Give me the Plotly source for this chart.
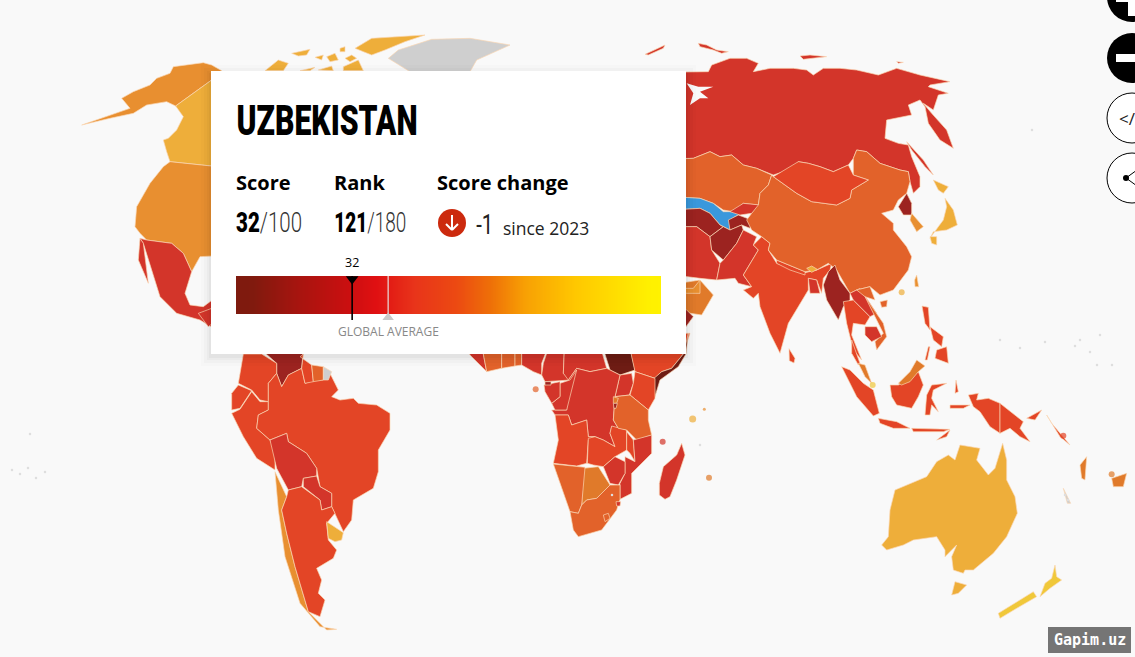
import json
import numpy as np
import plotly.graph_objects as go

W, H = 1135, 657
BG = "#f9f9f9"

ORIGIN = {"AS": (680, 30), "AF": (470, 340), "SA": (220, 350), "NA": (0, 30), "OC": (830, 340)}

BIN_COLORS = {0: "#6e1c14", 10: "#9c2320", 20: "#d3352a", 30: "#e34526", 40: "#e2622a",
              50: "#e07a2a", 60: "#e88f30", 70: "#eeae3a", 80: "#f0c83a"}
SELECTED_COLOR = "#3a98dc"
NO_DATA_COLOR = "#cfcfcf"

REGIONS = [
 # North America
 ("Alaska","NA",65,[(245,285),(310,262),(390,235),(365,205),(400,185),(450,165),(470,145),(510,130),(520,110),(610,98),(635,105),(665,122),(635,150),(527,228),(500,215),(440,225),(400,250),(330,265)]),
 ("Canada","NA",75,[(635,150),(527,228),(550,260),(530,300),(505,325),(490,330),(500,365),(510,395),(700,415),(700,140)]),
 ("USA","NA",65,[(510,395),(700,415),(700,675),(600,680),(575,725),(550,670),(515,640),(440,630),(420,610),(405,590),(410,530),(450,460),(490,410)]),
 ("Mexico","NA",26,[(420,625),(440,630),(515,640),(550,670),(575,725),(555,790),(570,825),(610,830),(650,800),(650,900),(600,870),(530,850),(480,800),(460,735),(450,700),(430,640)]),
 ("Baja","NA",26,[(420,625),(430,640),(445,760),(415,690)]),
 ("Guatemala","NA",25,[(595,850),(635,835),(650,870),(625,890)]),
 ("Banks","NA",75,[(795,122),(835,90),(865,100),(850,122)]),
 ("Victoria","NA",75,[(875,70),(930,58),(920,75),(895,78)]),
 ("Canada isle 1","NA",75,[(900,122),(945,112),(930,122)]),
 ("Canada isle 2","NA",75,[(955,120),(995,108),(1000,122)]),
 ("Canada isle 3","NA",75,[(945,82),(970,75),(965,90)]),
 ("Canada isle 4","NA",75,[(980,80),(1005,70),(1015,90),(990,95)]),
 ("Baffin","NA",75,[(1030,110),(1075,90),(1090,122),(1030,122)]),
 ("Canada isle 5","NA",75,[(1020,55),(1035,50),(1035,65),(1020,65)]),
 ("Canada isle 6","NA",75,[(1035,85),(1055,75),(1070,85),(1050,95)]),
 ("Ellesmere","NA",75,[(1065,55),(1115,25),(1275,15),(1215,35),(1155,60),(1115,75),(1090,65)]),
 ("Greenland","NA",None,[(1165,85),(1195,60),(1295,28),(1410,25),(1530,45),(1430,90),(1410,125),(1230,125)]),
 # South America
 ("Venezuela","SA",10,[(125,0),(250,0),(245,55),(205,75),(185,110),(170,70),(170,40)]),
 ("Colombia","SA",39,[(70,12),(125,12),(170,40),(170,70),(145,100),(145,155),(120,150),(95,120),(55,100)]),
 ("Ecuador","SA",34,[(55,105),(95,122),(60,175),(35,180),(35,130)]),
 ("Peru","SA",31,[(35,190),(60,178),(95,125),(120,155),(145,155),(145,180),(115,195),(110,235),(150,270),(165,300),(165,360),(110,325),(70,260)]),
 ("Brazil","SA",34,[(145,100),(170,70),(185,110),(205,75),(245,55),(255,100),(285,90),(310,90),(330,70),(355,120),(335,140),(360,150),(400,145),(415,160),(470,165),(510,190),(510,240),(475,300),(475,365),(460,415),(400,450),(395,510),(370,545),(345,490),(335,470),(335,430),(300,410),(290,355),(260,310),(205,275),(200,250),(150,270),(110,235),(115,195),(145,180)]),
 ("Bolivia","SA",28,[(150,270),(200,250),(205,275),(260,310),(290,355),(290,378),(250,385),(245,410),(205,420),(170,355)]),
 ("Paraguay","SA",24,[(250,385),(290,378),(300,410),(335,430),(335,470),(305,480),(300,450),(250,410)]),
 ("Chile","SA",63,[(165,365),(200,440),(185,480),(200,550),(225,650),(265,785),(320,840),(350,838),(300,830),(240,760),(195,620),(175,480)]),
 ("Argentina","SA",37,[(205,420),(245,410),(300,450),(305,480),(335,470),(345,490),(320,520),(325,570),(350,600),(340,625),(290,655),(305,690),(295,730),(315,750),(300,800),(265,785),(225,650),(200,550),(185,480),(200,440)]),
 ("Uruguay","SA",76,[(320,515),(370,548),(365,570),(345,575),(325,565)]),
 ("Guyana","SA",39,[(240,20),(275,45),(280,95),(255,100),(245,55),(250,12)]),
 ("Suriname","SA",40,[(275,45),(310,50),(310,90),(280,95)]),
 ("French Guiana","SA",None,[(310,50),(335,65),(325,90),(310,90)]),
 # Africa
 ("Guinea","AF",28,[(-30,-20),(40,-20),(40,42),(50,95),(30,75),(0,45)]),
 ("Ivory Coast","AF",45,[(40,-20),(95,-20),(95,85),(50,95),(40,42)]),
 ("Ghana","AF",42,[(95,-20),(135,-20),(135,78),(95,85)]),
 ("Togo-Benin","AF",45,[(135,-20),(155,-20),(155,75),(135,78)]),
 ("Nigeria","AF",26,[(155,-20),(250,-20),(215,70),(215,105),(190,95),(155,75)]),
 ("Cameroon","AF",26,[(250,-20),(285,-20),(280,100),(300,120),(225,125),(215,105),(220,70)]),
 ("CAR","AF",24,[(285,-20),(380,-20),(410,85),(360,95),(320,85),(295,120),(280,100)]),
 ("South Sudan","AF",8,[(385,-20),(470,-20),(495,90),(450,105),(420,90)]),
 ("Ethiopia","AF",35,[(470,-20),(660,-20),(640,42),(605,85),(575,95),(555,115),(495,95)]),
 ("Somalia","AF",9,[(655,-20),(648,42),(625,80),(570,120),(555,170),(552,115),(575,95),(605,85),(640,42)]),
 ("Uganda","AF",26,[(450,105),(485,100),(490,130),(478,165),(435,170)]),
 ("Kenya","AF",32,[(495,95),(555,115),(555,175),(535,210),(480,165),(490,130)]),
 ("DRC","AF",20,[(320,85),(360,95),(410,85),(450,105),(435,170),(430,240),(445,265),(425,260),(420,280),(435,320),(400,300),(375,290),(355,290),(350,240),(305,255),(295,225),(255,225),(245,210),(290,210),(295,120)]),
 ("Congo","AF",23,[(300,120),(320,90),(290,210),(255,210),(245,190),(270,170),(270,130)]),
 ("Gabon","AF",27,[(222,135),(270,125),(270,170),(245,190),(225,155)]),
 ("Equatorial Guinea","AF",13,[(225,125),(243,125),(243,135),(225,135)]),
 ("Angola","AF",32,[(255,225),(295,225),(305,255),(350,240),(355,290),(375,290),(355,300),(350,370),(320,378),(250,370),(265,300)]),
 ("Zambia","AF",39,[(355,295),(375,290),(400,300),(435,320),(420,280),(425,258),(470,270),(470,330),(435,350),(400,380),(370,375),(352,370)]),
 ("Tanzania","AF",41,[(435,170),(480,165),(535,210),(535,240),(545,285),(500,300),(470,270),(445,265),(430,240)]),
 ("Malawi","AF",34,[(470,275),(490,300),(495,365),(480,340),(470,330)]),
 ("Mozambique","AF",25,[(490,300),(545,285),(545,340),(485,400),(485,460),(450,478),(450,430),(465,400),(465,350),(495,365)]),
 ("Zimbabwe","AF",21,[(400,380),(435,350),(465,365),(465,400),(445,435),(420,430)]),
 ("Botswana","AF",57,[(340,385),(385,380),(420,435),(380,475),(350,480),(335,495)]),
 ("Namibia","AF",41,[(250,372),(320,378),(345,382),(335,495),(325,520),(300,515),(270,430)]),
 ("South Africa","AF",41,[(335,495),(350,480),(380,475),(420,435),(450,435),(450,478),(440,510),(395,570),(325,590),(310,570),(300,515),(325,520)]),
 ("Lesotho","AF",41,[(400,525),(415,520),(420,535),(405,545)]),
 ("Eswatini","AF",27,[(438,485),(452,485),(450,498),(440,498)]),
 ("Rwanda","AF",57,[(430,170),(445,175),(440,190),(430,190)]),
 ("Burundi","AF",17,[(430,190),(442,190),(438,205),(432,205)]),
 ("Madagascar","AF",26,[(635,310),(645,345),(620,420),(600,470),(585,478),(568,465),(568,430),(580,380),(620,345)]),
 # Europe/Asia
 ("Russia","AS",22,[(-300,130),(85,125),(95,105),(150,85),(200,85),(235,100),(220,125),(270,115),(340,115),(380,120),(400,135),(430,115),(480,115),(530,120),(595,135),(650,115),(720,135),(810,155),(750,165),(745,170),(805,190),(775,195),(760,240),(730,220),(755,250),(800,300),(820,355),(780,330),(745,280),(735,230),(720,210),(685,225),(695,255),(620,270),(615,325),(655,340),(685,345),(695,380),(720,440),(720,470),(700,490),(690,455),(685,425),(660,420),(600,400),(560,365),(530,360),(520,385),(505,405),(460,425),(420,410),(385,400),(355,395),(340,415),(280,435),(230,415),(190,405),(155,375),(120,380),(90,365),(40,385),(-300,390)]),
 ("White Sea","AS","bg",[(20,160),(40,190),(30,225),(60,205),(85,205),(60,185),(100,170),(55,170)]),
 ("Svalbard","AS",22,[(-105,73),(-45,45),(-50,55),(-95,75)]),
 ("Novaya Zemlya","AS",22,[(55,40),(80,45),(110,60),(145,65),(125,70),(100,60),(60,50)]),
 ("Severnaya Zemlya","AS",22,[(360,78),(390,75),(440,80),(400,85),(370,88)]),
 ("New Siberian","AS",22,[(650,95),(670,97),(655,100)]),
 ("Sakhalin","AS",22,[(680,335),(730,390),(760,435),(735,410),(695,360)]),
 ("Kazakhstan","AS",40,[(-100,390),(40,385),(90,365),(120,380),(155,375),(190,405),(230,415),(275,435),(265,465),(240,490),(235,525),(190,520),(160,545),(130,540),(100,520),(60,505),(-100,495)]),
 ("Uzbekistan","AS","sel",[(-100,495),(60,505),(100,520),(130,545),(155,545),(185,550),(165,560),(150,570),(150,600),(120,585),(90,550),(60,535),(-100,545)]),
 ("Kyrgyzstan","AS",25,[(150,545),(190,520),(240,525),(215,550),(180,555)]),
 ("Tajikistan","AS",19,[(145,570),(175,555),(215,570),(210,595),(185,585),(150,600)]),
 ("Turkmenistan","AS",17,[(-100,545),(60,535),(90,550),(120,585),(130,590),(90,620),(50,590),(-100,590)]),
 ("Iran","AS",23,[(-100,590),(50,590),(90,620),(95,660),(120,700),(110,750),(60,745),(-100,725)]),
 ("Afghanistan","AS",17,[(90,620),(130,590),(150,600),(185,585),(190,600),(170,640),(130,690),(95,660)]),
 ("Pakistan","AS",27,[(120,700),(130,690),(170,640),(190,600),(230,620),(220,645),(235,660),(190,735),(215,770),(175,760),(165,745),(110,750)]),
 ("India","AS",38,[(190,735),(235,660),(220,645),(245,620),(270,640),(265,660),(290,700),(375,728),(410,720),(455,700),(450,720),(430,745),(425,790),(410,750),(385,745),(385,780),(325,880),(300,970),(270,910),(240,830),(235,790),(220,805),(190,780),(215,770)]),
 ("Bangladesh","AS",23,[(385,745),(410,750),(420,790),(390,790)]),
 ("Nepal","AS",34,[(290,690),(375,725),(375,735),(330,720),(290,700)]),
 ("China","AS",43,[(275,435),(280,440),(350,490),(395,515),(470,525),(510,505),(515,480),(565,450),(520,435),(520,385),(530,360),(560,365),(600,400),(660,420),(685,425),(690,455),(680,490),(655,510),(640,540),(605,550),(640,580),(640,600),(680,650),(695,680),(685,720),(640,780),(600,795),(570,770),(530,780),(510,790),(470,720),(445,700),(410,720),(375,725),(290,690),(265,660),(270,640),(245,620),(215,600),(200,570),(215,550),(235,525),(240,490),(265,465)]),
 ("Bhutan","AS",72,[(380,715),(395,708),(412,718),(395,727)]),
 ("Mongolia","AS",33,[(280,440),(355,395),(385,400),(420,410),(460,425),(505,405),(520,435),(565,450),(515,480),(510,505),(470,525),(395,515),(350,490)]),
 ("North Korea","AS",15,[(680,490),(695,520),(695,555),(670,555),(655,530)]),
 ("South Korea","AS",64,[(695,550),(730,590),(710,605),(690,570)]),
 ("Hokkaido","AS",71,[(760,450),(805,470),(790,490),(775,480)]),
 ("Honshu","AS",71,[(795,505),(820,540),(832,585),(800,600),(760,605),(750,625),(775,590),(790,570),(800,530)]),
 ("Kyushu","AS",71,[(750,620),(770,620),(770,645),(755,640)]),
 ("Taiwan","AS",68,[(710,735),(716,770),(705,770),(704,750)]),
 ("Hainan","AS",43,[(600,815),(622,810),(620,830),(605,832)]),
 ("Myanmar","AS",16,[(465,705),(480,750),(510,790),(510,810),(490,830),(475,870),(440,810),(430,765),(445,725)]),
 ("Thailand","AS",34,[(490,815),(520,810),(570,860),(555,885),(520,880),(515,915),(545,990),(520,960),(500,880)]),
 ("Laos","AS",28,[(510,790),(540,775),(590,850),(570,860),(520,810)]),
 ("Vietnam","AS",40,[(530,780),(570,770),(585,810),(555,800),(610,880),(620,920),(590,960),(585,935),(610,910),(590,870),(555,800)]),
 ("Cambodia","AS",21,[(555,890),(590,890),(605,920),(575,935),(555,915)]),
 ("Oman","AS",55,[(-100,775),(60,750),(100,795),(65,855),(-100,830)]),
 ("UAE","AS",68,[(-10,775),(40,775),(60,750),(60,790),(20,790)]),
 ("Yemen","AS",13,[(-100,830),(18,838),(40,860),(18,890),(-100,890)]),
 ("Sri Lanka","AS",32,[(327,956),(345,985),(342,999),(328,992)]),
 ("Luzon","AS",33,[(726,828),(745,832),(750,900),(735,880)]),
 ("Visayas","AS",33,[(750,890),(790,920),(785,950),(760,930)]),
 ("Palawan","AS",33,[(735,990),(745,950),(750,950),(742,990)]),
 # Oceania / South-East Asia islands
 ("Thai peninsula","OC",34,[(65,0),(75,30),(90,70),(85,75),(65,40)]),
 ("Malaysia peninsula","OC",50,[(85,70),(105,75),(125,130),(105,110)]),
 ("Sumatra","OC",37,[(35,80),(60,90),(100,130),(130,150),(148,220),(130,228),(80,170)]),
 ("Java","OC",37,[(145,235),(200,245),(240,265),(190,265),(150,250)]),
 ("Lesser Sunda","OC",37,[(245,265),(360,268),(340,275),(250,275)]),
 ("Timor","OC",37,[(320,300),(360,270),(350,290)]),
 ("Kalimantan","OC",37,[(180,135),(205,135),(220,125),(265,95),(280,135),(265,170),(245,205),(200,195),(185,170)]),
 ("Sabah-Sarawak","OC",50,[(205,130),(240,95),(260,60),(285,78),(265,95),(240,125),(215,135)]),
 ("Sulawesi","OC",37,[(290,165),(305,135),(350,130),(310,150),(305,175),(325,215),(305,195),(300,225),(285,225)]),
 ("Mindanao","OC",33,[(320,30),(350,20),(355,70),(340,65),(315,55)]),
 ("Halmahera","OC",37,[(378,120),(385,155),(375,160)]),
 ("Seram","OC",37,[(360,195),(420,195),(400,205),(360,205)]),
 ("Papua Indonesia","OC",37,[(415,165),(445,160),(440,180),(475,175),(510,190),(510,280),(480,260),(450,215),(430,200)]),
 ("PNG","OC",31,[(510,190),(580,245),(570,265),(600,305),(570,290),(540,265),(510,280)]),
 ("New Britain","OC",31,[(590,235),(635,210),(615,240)]),
 ("Solomon","OC",31,[(650,225),(665,250),(720,315),(690,290)]),
 ("Vanuatu","OC",50,[(750,375),(770,350),(765,420),(755,415)]),
 ("Fiji","OC",55,[(845,415),(890,400),(880,440),(850,440)]),
 ("New Caledonia","OC",None,[(700,445),(722,490),(712,490)]),
 ("Australia","OC",77,[(155,615),(175,590),(180,510),(195,450),(290,410),(320,365),(355,345),(375,360),(390,315),(450,325),(440,360),(475,405),(495,385),(518,310),(530,360),(530,420),(555,470),(562,520),(530,590),(490,640),(430,690),(405,690),(400,700),(370,690),(365,650),(380,615),(345,650),(345,630),(320,590),(250,600),(220,615),(170,630)]),
 ("Tasmania","OC",77,[(375,725),(410,735),(385,760),(365,765)]),
 ("NZ North","OC",83,[(675,675),(680,710),(695,720),(660,745),(630,770),(645,730),(665,715)]),
 ("NZ South","OC",83,[(610,755),(620,770),(560,805),(510,835),(505,820),(560,785)]),
]

DOT_GROUP = ["AS", "AF", "AF", "AF", "AF", "AF", "OC", "OC", "OC"]
DOT_SCORE = [74, 45, 21, 72, 51, 62, 84, 31, 55]
DOT_X = [665, 197, 578, 668, 717, 703, 128, 700, 845]
DOT_Y = [787, 148, 305, 237, 413, 208, 135, 287, 403]
DOT_SIZE = [6, 6, 6, 7, 6, 3, 6, 6, 6]

ISLET_X = [12, 20, 28, 36, 45, 30, 1000, 1020, 1045, 1075, 1090, 1100, 1112, 1080, 1097, 1065, 1068, 700, 612, 1032]
ISLET_Y = [470, 474, 468, 478, 472, 434, 340, 348, 342, 346, 352, 335, 365, 340, 365, 495, 500, 445, 495, 130]

SCORE_MARK = 32
GLOBAL_AVERAGE = 43
SCALE_MIN, SCALE_MAX = -3.5, 126.4
GRAD_STOPS = [[0, "#7e1a0e"], [0.04, "#801a0e"], [0.15, "#a8140f"], [0.27, "#cc0f10"], [0.33, "#e01012"],
              [0.42, "#e8341a"], [0.52, "#ec4a12"], [0.6, "#ee7008"], [0.68, "#f8a004"],
              [0.8, "#ffc800"], [0.97, "#fff000"], [1, "#fff200"]]

PANEL = (211, 71, 686, 354)


def color_of(score):
    if score is None:
        return NO_DATA_COLOR
    if score == "sel":
        return SELECTED_COLOR
    if score == "bg":
        return BG
    return BIN_COLORS[min(score // 10 * 10, 80)]


fig = go.Figure()
BORDER = "rgba(250,215,180,0.85)"
for name, grp, score, pts in REGIONS:
    ox, oy = ORIGIN[grp]
    xs = [ox + p[0] / 3 for p in pts] + [ox + pts[0][0] / 3]
    ys = [oy + p[1] / 3 for p in pts] + [oy + pts[0][1] / 3]
    c = color_of(score)
    coast = score == "bg"
    fig.add_trace(go.Scatter(x=xs, y=ys, mode="lines", fill="toself", fillcolor=c, name=name,
                             line=dict(color=BG if coast else BORDER, width=0 if coast else 0.8),
                             hoverinfo="skip", showlegend=False))

fig.add_trace(go.Scatter(
    x=[ORIGIN[g][0] + v / 3 for g, v in zip(DOT_GROUP, DOT_X)],
    y=[ORIGIN[g][1] + v / 3 for g, v in zip(DOT_GROUP, DOT_Y)],
    mode="markers", hoverinfo="skip", showlegend=False,
    marker=dict(size=DOT_SIZE, color=[color_of(s) for s in DOT_SCORE], line=dict(width=0))))
fig.add_trace(go.Scatter(x=ISLET_X, y=ISLET_Y, mode="markers", hoverinfo="skip", showlegend=False,
                         marker=dict(size=2.5, color="#dedede")))

px0, py0, px1, py1 = PANEL
for grow, alpha in [(10, 0.012), (7, 0.018), (4, 0.025), (2, 0.03)]:
    fig.add_trace(go.Scatter(
        x=[px0 - grow, px1 + grow, px1 + grow, px0 - grow, px0 - grow],
        y=[py0 - grow + 4, py0 - grow + 4, py1 + grow + 2, py1 + grow + 2, py0 - grow + 4],
        mode="lines", fill="toself", fillcolor=f"rgba(0,0,0,{alpha})", line=dict(width=0),
        hoverinfo="skip", showlegend=False))
fig.add_trace(go.Scatter(x=[px0, px1, px1, px0, px0], y=[py0, py0, py1, py1, py0], mode="lines",
                         fill="toself", fillcolor="white", line=dict(width=0),
                         hoverinfo="skip", showlegend=False))

# Gradient bar in an inset axes: x in score units, y in page pixels (276..314)
edges = np.linspace(SCALE_MIN, SCALE_MAX, 426)
mid = (np.arange(425) + 0.5) / 425
fig.add_trace(go.Heatmap(x=edges, y=[276, 314], z=[mid.tolist()], zmin=0, zmax=1, colorscale=GRAD_STOPS,
                         showscale=False, hoverinfo="skip", xaxis="x2", yaxis="y2"))
fig.add_trace(go.Scatter(x=[GLOBAL_AVERAGE, GLOBAL_AVERAGE], y=[276, 314], mode="lines",
                         line=dict(color="#e8dcdc", width=1.2), xaxis="x2", yaxis="y2",
                         hoverinfo="skip", showlegend=False))
fig.add_trace(go.Scatter(x=[SCORE_MARK, SCORE_MARK], y=[276, 320], mode="lines",
                         line=dict(color="black", width=1.6), xaxis="x2", yaxis="y2",
                         hoverinfo="skip", showlegend=False))
fig.add_trace(go.Scatter(x=[SCORE_MARK], y=[279], mode="markers", xaxis="x2", yaxis="y2",
                         marker=dict(symbol="triangle-down", size=11, color="black", line=dict(width=0)),
                         hoverinfo="skip", showlegend=False))
fig.add_trace(go.Scatter(x=[GLOBAL_AVERAGE], y=[317.5], mode="markers", xaxis="x2", yaxis="y2",
                         marker=dict(symbol="triangle-up", size=10, color="#c9c9c9", line=dict(width=0)),
                         hoverinfo="skip", showlegend=False))

ROBOTO = "Roboto"
OPEN = "Open Sans"


def txt(x, y, s, size, font=OPEN, color="black", anchor="left", weight=None):
    f = dict(family=font, size=size, color=color)
    if weight:
        f["weight"] = weight
    return dict(x=x, y=y, xref="x", yref="y", text=s, showarrow=False, xanchor=anchor, yanchor="middle", font=f)


def frac(head, tail):
    return ("<span style='font-weight:900;fill:#000'>%s</span>"
            "<span style='font-weight:300;fill:#333'>/%s</span>" % (head, tail))


# Text squeezed to the reference's condensed widths: text -> page width
CONDENSED = {"UZBEKISTAN": 181, "32/100": 66, "121/180": 72, "-1": 17}

annotations = [
    txt(326.5, 120, "UZBEKISTAN", 42, ROBOTO, anchor="center", weight=900),
    txt(234, 182.5, "<b>Score</b>", 20),
    txt(332, 182.5, "<b>Rank</b>", 20),
    txt(435, 182.5, "<b>Score change</b>", 20),
    txt(269, 222, frac("32", "100"), 28, ROBOTO, anchor="center"),
    txt(370, 222, frac("121", "180"), 28, ROBOTO, anchor="center"),
    txt(484.5, 224, "-1", 28, ROBOTO, "#222222", "center", weight=400),
    txt(501, 227.5, "since 2023", 17.5, OPEN, "#222222"),
    txt(352, 262, "32", 12.5, OPEN, "black", "center"),
    txt(388, 331, "GLOBAL AVERAGE", 12, OPEN, "#888888", "center"),
    txt(1089.5, 640, "<b>Gapim.uz</b>", 15, "DejaVu Sans Mono", "white", "center"),
    txt(1117, 118, "&lt;/", 17, OPEN, "#222222"),
]

shapes = [
    dict(type="circle", x0=1107, x1=1157, y0=-28, y1=22, fillcolor="black", line=dict(width=0)),
    dict(type="rect", x0=1128, x1=1136, y0=-20, y1=16, fillcolor="white", line=dict(width=0)),
    dict(type="rect", x0=1116, x1=1136, y0=-6, y1=2, fillcolor="white", line=dict(width=0)),
    dict(type="circle", x0=1107, x1=1157, y0=33, y1=83, fillcolor="black", line=dict(width=0)),
    dict(type="rect", x0=1116, x1=1136, y0=54, y1=62, fillcolor="white", line=dict(width=0)),
    dict(type="circle", x0=1107, x1=1157, y0=93, y1=143, fillcolor="white", line=dict(color="black", width=1)),
    dict(type="circle", x0=1107, x1=1157, y0=153, y1=203, fillcolor="white", line=dict(color="black", width=1)),
    dict(type="line", x0=1126, x1=1137, y0=178, y1=170, line=dict(color="black", width=1)),
    dict(type="line", x0=1126, x1=1137, y0=178, y1=186, line=dict(color="black", width=1)),
    dict(type="circle", x0=1123, x1=1129, y0=175, y1=181, fillcolor="black", line=dict(width=0)),
    dict(type="circle", x0=438, x1=466, y0=209, y1=237, fillcolor="#cc2a0e", line=dict(width=0)),
    dict(type="line", x0=452, x1=452, y0=215, y1=230, line=dict(color="white", width=2)),
    dict(type="line", x0=446, x1=452, y0=224, y1=230, line=dict(color="white", width=2)),
    dict(type="line", x0=458, x1=452, y0=224, y1=230, line=dict(color="white", width=2)),
    dict(type="rect", x0=1048, x1=1131, y0=627, y1=653, fillcolor="#757575", line=dict(width=0)),
]

fig.update_layout(
    width=W, height=H, margin=dict(l=0, r=0, t=0, b=0), autosize=False,
    paper_bgcolor=BG, plot_bgcolor="rgba(0,0,0,0)", showlegend=False,
    xaxis=dict(range=[0, W], visible=False, domain=[0, 1], fixedrange=True),
    yaxis=dict(range=[H, 0], visible=False, domain=[0, 1], fixedrange=True),
    xaxis2=dict(range=[SCALE_MIN, SCALE_MAX], visible=False, domain=[236 / W, 661 / W], anchor="y2", fixedrange=True),
    yaxis2=dict(range=[322, 270], visible=False, domain=[1 - 322 / H, 1 - 270 / H], anchor="x2", fixedrange=True),
    annotations=annotations, shapes=shapes,
)

POST = """
document.body.style.margin='0';document.body.style.background='%s';
var cond=%s;
function squeeze(){document.querySelectorAll('.annotation-text').forEach(function(t){
  var w=cond[t.textContent];
  if(w && Math.abs(t.getBoundingClientRect().height)>20){t.setAttribute('textLength',w);t.setAttribute('lengthAdjust','spacingAndGlyphs');}
});}
squeeze();setTimeout(squeeze,0);setTimeout(squeeze,200);
""" % (BG, json.dumps(CONDENSED))
fig.write_html("out.html", config={"displayModeBar": False}, post_script=POST)
